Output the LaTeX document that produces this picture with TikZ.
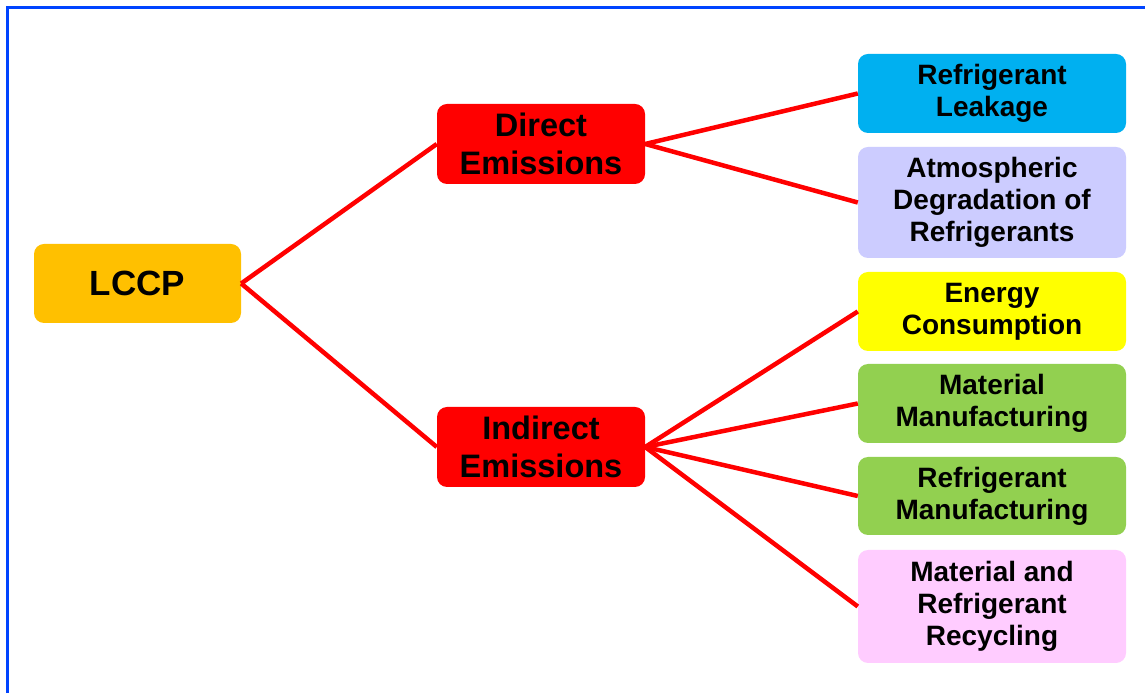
\documentclass[tikz,border=0pt]{standalone}
\usepackage{fontspec}
\setmainfont{Liberation Sans}
\usetikzlibrary{positioning}

\definecolor{lccpgold}{HTML}{FFC000}
\definecolor{emisred}{HTML}{FF0000}
\definecolor{leakblue}{HTML}{00B0F0}
\definecolor{atmolilac}{HTML}{CCCCFF}
\definecolor{energyyellow}{HTML}{FFFF00}
\definecolor{manugreen}{HTML}{92D050}
\definecolor{recycpink}{HTML}{FFCCFF}
\definecolor{frameblue}{RGB}{0,68,255}

\begin{document}
\begin{tikzpicture}[x=1pt,y=1pt,
    box/.style={rounded corners=10pt,align=center,inner sep=0pt,font=\bfseries},
    rootbox/.style={box,minimum width=207pt,minimum height=79pt,font=\bfseries\fontsize{35}{38}\selectfont},
    midbox/.style={box,fill=emisred,minimum width=208pt,minimum height=80pt,font=\bfseries\fontsize{32.5}{38}\selectfont},
    leafbox/.style={box,minimum width=268pt,font=\bfseries\fontsize{28}{32}\selectfont},
    link/.style={draw=emisred,line width=4.5pt}]
       \useasboundingbox (0,0) rectangle (1145,693);
       \fill[white] (0,0) rectangle (1145,693);
       % frame
       \draw[frameblue,line width=3pt] (7,0) -- (7,685) -- (1145,685);

       \node[rootbox,fill=lccpgold] (lccp) at (137.5,409.5) {LCCP};

       \node[midbox] (direct) at (541,549) {Direct\\Emissions};
       \node[midbox] (indirect) at (541,246) {Indirect\\Emissions};

       \node[leafbox,fill=leakblue,minimum height=79pt] (leak) at (992,599.5) {Refrigerant\\Leakage};
       \node[leafbox,fill=atmolilac,minimum height=111pt] (atmo) at (992,490.5) {Atmospheric\\Degradation of\\Refrigerants};
       \node[leafbox,fill=energyyellow,minimum height=79pt] (energy) at (992,381.5) {Energy\\Consumption};
       \node[leafbox,fill=manugreen,minimum height=79pt] (matman) at (992,289.5) {Material\\Manufacturing};
       \node[leafbox,fill=manugreen,minimum height=78pt] (refman) at (992,197) {Refrigerant\\Manufacturing};
       \node[leafbox,fill=recycpink,minimum height=113pt] (recyc) at (992,86.5) {Material and\\Refrigerant\\Recycling};

       \draw[link] (lccp.east) -- (direct.west);
       \draw[link] (lccp.east) -- (indirect.west);

       \draw[link] (direct.east) -- (leak.west);
       \draw[link] (direct.east) -- (atmo.west);

       \draw[link] (indirect.east) -- (energy.west);
       \draw[link] (indirect.east) -- (matman.west);
       \draw[link] (indirect.east) -- (refman.west);
       \draw[link] (indirect.east) -- (recyc.west);
\end{tikzpicture}
\end{document}
